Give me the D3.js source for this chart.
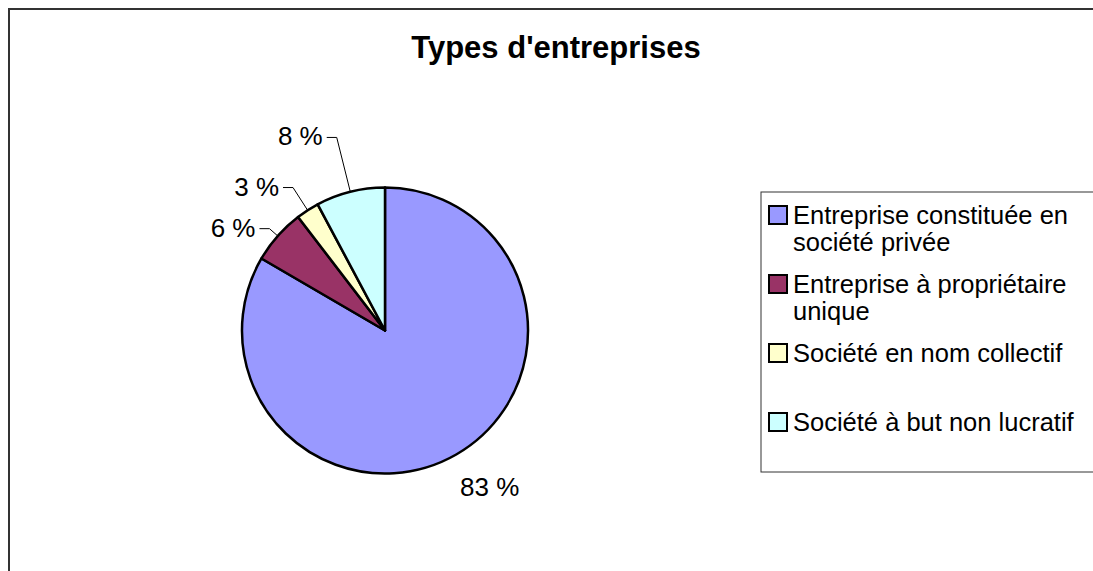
<!DOCTYPE html>
<html>
<head>
<meta charset="utf-8">
<script src="https://cdn.jsdelivr.net/npm/d3@7"></script>
<style>
  body { margin: 0; background: #fff; }
  svg { display: block; font-family: "Liberation Sans", Arial, sans-serif; }
</style>
</head>
<body>
<div id="chart"></div>
<script>
// data
var categories = ["Entreprise constituée en société privée", "Entreprise à propriétaire unique",
                  "Société en nom collectif", "Société à but non lucratif"];
var legendLines = [["Entreprise constituée en", "société privée"], ["Entreprise à propriétaire", "unique"],
                   ["Société en nom collectif"], ["Société à but non lucratif"]];
var shares = [83.4, 6.2, 2.6, 7.8];
var colors = ["#9999ff", "#993366", "#ffffcc", "#ccffff"];
var title = "Types d'entreprises";

var width = 1093, height = 571;
var cx = 385, cy = 330.5, r = 143;

var svg = d3.select("#chart").append("svg")
  .attr("width", width)
  .attr("height", height);

// outer frame (runs past the right and bottom edge)
svg.append("rect")
  .attr("x", 9).attr("y", 9)
  .attr("width", width + 20).attr("height", height + 20)
  .attr("fill", "#fff")
  .attr("stroke", "#333")
  .attr("stroke-width", 2);

svg.append("text")
  .attr("x", 556).attr("y", 58)
  .attr("text-anchor", "middle")
  .attr("font-size", 31)
  .attr("font-weight", "bold")
  .text(title);

var pie = d3.pie().sort(null).value(function(d) { return d; });
var arcs = pie(shares);
var arc = d3.arc().innerRadius(0).outerRadius(r);

var g = svg.append("g").attr("transform", "translate(" + cx + "," + cy + ")");

g.selectAll("path.slice")
  .data(arcs)
  .enter()
  .append("path")
  .attr("class", "slice")
  .attr("d", arc)
  .attr("fill", function(d, i) { return colors[i]; })
  .attr("stroke", "#000")
  .attr("stroke-width", 2.5)
  .attr("stroke-linejoin", "round");

// leader elbows for the small slices (radius from the centre), null = no leader
var leaderRadius = [null, 154, 170, 199];

arcs.forEach(function(d, i) {
  var mid = (d.startAngle + d.endAngle) / 2;
  var label = Math.round(d.data) + " %";
  if (leaderRadius[i] == null) {
    var R = 180;
    g.append("text")
      .attr("x", R * Math.sin(mid) + 15)
      .attr("y", -R * Math.cos(mid) + 9)
      .attr("text-anchor", "middle")
      .attr("font-size", 26)
      .text(label);
    return;
  }
  var p0 = [r * Math.sin(mid), -r * Math.cos(mid)];
  var p1 = [leaderRadius[i] * Math.sin(mid), -leaderRadius[i] * Math.cos(mid)];
  var p2 = [p1[0] - 10, p1[1]];
  g.append("path")
    .attr("d", d3.line()([p0, p1, p2]))
    .attr("fill", "none")
    .attr("stroke", "#000")
    .attr("stroke-width", 1);
  g.append("text")
    .attr("x", p2[0] - 4)
    .attr("y", p2[1] + 8)
    .attr("text-anchor", "end")
    .attr("font-size", 26)
    .text(label);
});

// legend
var legend = svg.append("g");
legend.append("rect")
  .attr("x", 761).attr("y", 192)
  .attr("width", 400).attr("height", 280)
  .attr("fill", "#fff")
  .attr("stroke", "#333")
  .attr("stroke-width", 1);

var item = legend.selectAll("g.item")
  .data(categories)
  .enter()
  .append("g")
  .attr("class", "item")
  .attr("transform", function(d, i) { return "translate(769," + (206 + i * 69) + ")"; });

item.append("rect")
  .attr("width", 18).attr("height", 18)
  .attr("fill", function(d, i) { return colors[i]; })
  .attr("stroke", "#000")
  .attr("stroke-width", 2);

item.append("text")
  .attr("font-size", 25.5)
  .selectAll("tspan")
  .data(function(d, i) { return legendLines[i]; })
  .enter()
  .append("tspan")
  .attr("x", 24)
  .attr("y", function(d, j) { return 18 + j * 27; })
  .text(function(d) { return d; });
</script>
</body>
</html>
